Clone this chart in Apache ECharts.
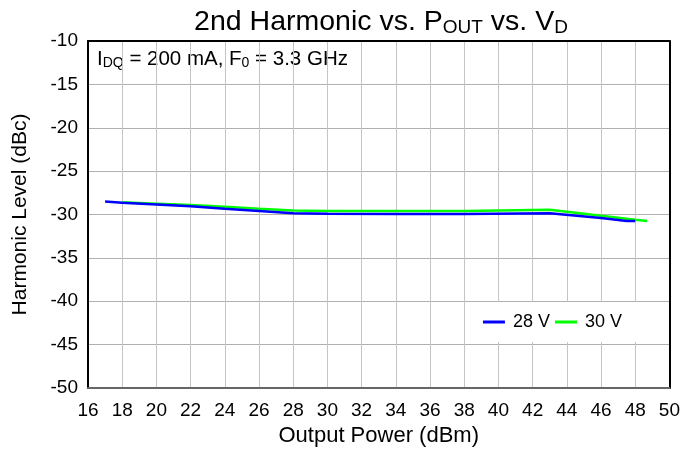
<!DOCTYPE html>
<html>
<head>
<meta charset="utf-8">
<script src="https://cdn.jsdelivr.net/npm/echarts@6/dist/echarts.min.js"></script>
<style>html,body{margin:0;padding:0;background:#fff}#c{width:683px;height:455px}</style>
</head>
<body>
<div id="c"></div>
<script>
var seriesNames = ['28 V', '30 V'];
var pout28 = [17, 18, 20, 22, 24, 26, 28, 30, 34, 38, 43, 46, 47.5, 48];
var harm28 = [-28.5, -28.65, -28.85, -29.05, -29.35, -29.6, -29.85, -29.9, -29.95, -29.95, -29.85, -30.4, -30.75, -30.75];
var pout30 = [18, 20, 22, 24, 26, 28, 30, 34, 38, 43, 46, 48, 48.7];
var harm30 = [-28.6, -28.75, -28.9, -29.1, -29.35, -29.55, -29.6, -29.6, -29.6, -29.45, -30.15, -30.6, -30.75];
var xTicks = [16, 18, 20, 22, 24, 26, 28, 30, 32, 34, 36, 38, 40, 42, 44, 46, 48, 50];
var yTicks = [-50, -45, -40, -35, -30, -25, -20, -15, -10];

function pairs(xs, ys) { return xs.map(function (x, i) { return [x, ys[i]]; }); }

var FONT = 'Liberation Sans, Arial, sans-serif';
var xMin = xTicks[0], xMax = xTicks[xTicks.length - 1];
var yMin = yTicks[0], yMax = yTicks[yTicks.length - 1];
var chart = echarts.init(document.getElementById('c'), null, {renderer: 'canvas'});
chart.setOption({
  animation: false,
  backgroundColor: '#fff',
  textStyle: {fontFamily: FONT},
  title: {
    text: '{a|2nd Harmonic vs. P}{s|OUT}{a| vs. V}{s|D}',
    left: 376, textAlign: 'center', top: 3,
    textStyle: {
      fontWeight: 'normal',
      rich: {
        a: {fontSize: 28.5, color: '#000', fontFamily: FONT, fontWeight: 'normal'},
        s: {fontSize: 19, color: '#000', fontFamily: FONT, fontWeight: 'normal', padding: [10, 0, 0, 0]}
      }
    }
  },
  grid: {left: 88, right: 11, top: 41, bottom: 67, show: false},
  legend: {
    data: seriesNames,
    right: 14, top: 302,
    backgroundColor: '#fff',
    padding: [11, 47, 11, 12],
    itemWidth: 22, itemHeight: 3, itemGap: 5,
    icon: 'rect',
    textStyle: {fontSize: 18, color: '#000', fontFamily: FONT, padding: [0, 0, 0, 3]}
  },
  xAxis: [{
    type: 'value', min: xMin, max: xMax, interval: 2,
    name: 'Output Power (dBm)', nameLocation: 'middle', nameGap: 37,
    nameTextStyle: {fontSize: 22, color: '#000', fontFamily: FONT},
    axisLine: {show: true, onZero: false, lineStyle: {color: '#666', width: 2}},
    axisTick: {show: false},
    axisLabel: {fontSize: 19, color: '#000', margin: 13, fontFamily: FONT},
    splitLine: {show: true, lineStyle: {color: '#c4c4c4', width: 1}}
  }, {
    type: 'value', position: 'top', min: xMin, max: xMax, interval: 2,
    axisLine: {show: true, onZero: false, lineStyle: {color: '#000', width: 2}},
    axisTick: {show: false}, axisLabel: {show: false}, splitLine: {show: false}
  }],
  yAxis: [{
    type: 'value', min: yMin, max: yMax, interval: 5,
    name: 'Harmonic Level (dBc)', nameLocation: 'middle', nameGap: 57,
    nameTextStyle: {fontSize: 21, color: '#000', fontFamily: FONT},
    axisLine: {show: true, onZero: false, lineStyle: {color: '#000', width: 2}},
    axisTick: {show: false},
    axisLabel: {fontSize: 19, color: '#000', margin: 10, fontFamily: FONT},
    splitLine: {show: true, lineStyle: {color: '#b0b0b0', width: 1}}
  }, {
    type: 'value', position: 'right', min: yMin, max: yMax, interval: 5,
    axisLine: {show: true, onZero: false, lineStyle: {color: '#000', width: 2}},
    axisTick: {show: false}, axisLabel: {show: false}, splitLine: {show: false}
  }],
  graphic: [{
    type: 'group', left: 89, top: 43, z: 5,
    children: [
      {type: 'rect', shape: {x: 0, y: 0, width: 340, height: 33}, style: {fill: '#fff'}},
      {type: 'text', x: 8, y: 6, style: {
        text: '{a|I}{s|DQ}{a| = 200 mA, F}{s|0}{a| = 3.3 GHz}',
        rich: {
          a: {fontSize: 20.5, fill: '#000', fontFamily: FONT},
          s: {fontSize: 14, fill: '#000', fontFamily: FONT, padding: [7, 0, 0, 0]}
        }
      }}
    ]
  }],
  series: [
    {name: seriesNames[0], type: 'line', data: pairs(pout28, harm28), showSymbol: false, symbol: 'none',
     lineStyle: {color: '#0000ff', width: 2.5}, itemStyle: {color: '#0000ff'}, z: 3},
    {name: seriesNames[1], type: 'line', data: pairs(pout30, harm30), showSymbol: false, symbol: 'none',
     lineStyle: {color: '#00ff00', width: 2.5}, itemStyle: {color: '#00ff00'}, z: 2}
  ]
});
</script>
</body>
</html>
